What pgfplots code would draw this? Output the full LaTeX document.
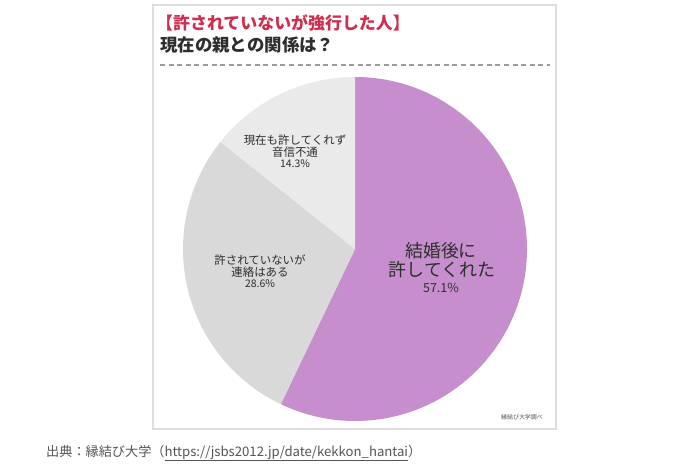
\documentclass[border=0pt]{standalone}
\usepackage{fontspec}
\setmainfont{Noto Sans CJK JP}
\usepackage{pgfplots}
\usepackage{pgfplotstable}
\pgfplotsset{compat=1.18}
\definecolor{piepurple}{HTML}{C78ECD}
\definecolor{piemid}{HTML}{D9D9D9}
\definecolor{pielight}{HTML}{EAEAEA}
\definecolor{boxgray}{HTML}{DEDEDE}
\definecolor{dashgray}{HTML}{9C9C9C}
\definecolor{titlered}{HTML}{CF2E4E}
\definecolor{txt}{HTML}{2E2E2E}
\definecolor{captiongray}{HTML}{555555}
\pgfplotstableread{
label value
A 57.1
B 28.6
C 14.3
}\piedata
\begin{document}
\begin{tikzpicture}
\pgfplotstablegetelem{0}{value}\of\piedata \let\va\pgfplotsretval
\pgfplotstablegetelem{1}{value}\of\piedata \let\vb\pgfplotsretval
\pgfplotstablegetelem{2}{value}\of\piedata \let\vc\pgfplotsretval
\pgfmathsetmacro\tot{\va+\vb+\vc}
\pgfmathsetmacro\aA{90-360*(\va/\tot)}
\pgfmathsetmacro\aB{\aA-360*(\vb/\tot)}
\pgfmathsetmacro\aC{\aB-360*(\vc/\tot)}
\begin{axis}[x=1bp,y=1bp,xmin=0,xmax=690,ymin=0,ymax=471,hide axis,
  scale only axis,clip=false,anchor=origin,at={(0,0)}]
\fill[white] (axis cs:0,0) rectangle (axis cs:690,471);
\draw[boxgray,line width=1.3bp] (axis cs:153,466) rectangle (axis cs:556,42);
\draw[dashgray,line width=1.6bp,dash pattern=on 5bp off 3.6bp] (axis cs:160,406) -- (axis cs:550,406);
% pie
\fill[piepurple] (axis cs:355,222) -- (axis cs:355,394) arc[start angle=90,end angle=\aA,radius=172bp] -- cycle;
\fill[piemid] (axis cs:355,222) -- ++(\aA:172bp) arc[start angle=\aA,end angle=\aB,radius=172bp] -- cycle;
\fill[pielight] (axis cs:355,222) -- ++(\aB:172bp) arc[start angle=\aB,end angle=\aC,radius=172bp] -- cycle;
% titles
\node[anchor=west,inner sep=0pt,text=titlered,font=\fontsize{17}{19}\selectfont\bfseries] at (axis cs:156,448) {【許されていないが強行した人】};
\node[anchor=west,inner sep=0pt,text=txt,font=\fontsize{17.5}{20}\selectfont\bfseries] at (axis cs:160,426) {現在の親との関係は？};
% labels
\node[inner sep=0pt,text=txt,font=\fontsize{18}{20}\selectfont] at (axis cs:441,220) {結婚後に};
\node[inner sep=0pt,text=txt,font=\fontsize{18}{20}\selectfont] at (axis cs:442,201) {許してくれた};
\node[inner sep=0pt,text=txt,font=\fontsize{12.5}{14}\selectfont] at (axis cs:441,183) {57.1\%};
\node[inner sep=0pt,text=txt,font=\fontsize{11.5}{13}\selectfont] at (axis cs:295,331) {現在も許してくれず};
\node[inner sep=0pt,text=txt,font=\fontsize{11.5}{13}\selectfont] at (axis cs:295,319) {音信不通};
\node[inner sep=0pt,text=txt,font=\fontsize{10.5}{12}\selectfont] at (axis cs:295,307) {14.3\%};
\node[inner sep=0pt,text=txt,font=\fontsize{11.5}{13}\selectfont] at (axis cs:260,211) {許されていないが};
\node[inner sep=0pt,text=txt,font=\fontsize{11.5}{13}\selectfont] at (axis cs:260,199) {連絡はある};
\node[inner sep=0pt,text=txt,font=\fontsize{10.5}{12}\selectfont] at (axis cs:260,187) {28.6\%};
\node[inner sep=0pt,text=captiongray,font=\fontsize{6}{7}\selectfont] at (axis cs:522,54) {縁結び大学調べ};
% caption
\node[anchor=west,inner sep=0pt,text=captiongray,font=\fontsize{13.2}{15}\selectfont] at (axis cs:46,18) {出典：縁結び大学（\underline{https://jsbs2012.jp/date/kekkon\_hantai}）};
\end{axis}
\end{tikzpicture}
\end{document}
